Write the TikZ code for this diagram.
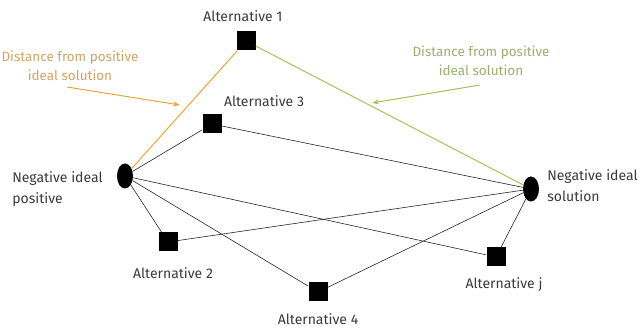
\documentclass[tikz,border=0pt]{standalone}
\usepackage{fontspec}
\setmainfont{Fira Sans}
\usetikzlibrary{arrows.meta, shapes.geometric}
\definecolor{corange}{HTML}{E8A63C}
\definecolor{cgreen}{HTML}{A9C255}
\definecolor{corangetxt}{HTML}{CFA464}
\definecolor{cgreentxt}{HTML}{9DAF6C}
\definecolor{cdark}{HTML}{3A3A3A}
\tikzset{
  every picture/.style={x=1pt, y=-1pt, line width=0.6pt},
  alt/.style={fill=black, minimum size=19pt, inner sep=0pt},
  ideal/.style={ellipse, fill=black, minimum width=16pt, minimum height=25pt, inner sep=0pt},
  link/.style={draw=black!85, line width=0.6pt},
  lbl/.style={text=cdark, font=\fontsize{14}{21}\selectfont, inner sep=0pt},
  distnote/.style={font=\fontsize{13.5}{18.5}\selectfont, align=center, inner sep=0pt},
  pointer/.style={-{Stealth[length=7pt, width=5pt]}, line width=1pt},
}

\begin{document}
\begin{tikzpicture}
  \useasboundingbox (0,0) rectangle (641,331);
  % ideal solutions
  \node[ideal] (negl) at (125,176) {};
  \node[ideal] (negr) at (531,189) {};
  % alternatives
  \node[alt] (a1) at (246,41) {};
  \node[alt] (a3) at (212,124) {};
  \node[alt] (a2) at (168,242) {};
  \node[alt] (a4) at (318,292) {};
  \node[alt] (aj) at (496,257) {};
  % labels
  \node[lbl] (la1) at (243,16) {Alternative 1};
  \node[lbl] (la3) at (264,101) {Alternative 3};
  \node[lbl] (la2) at (173,273) {Alternative 2};
  \node[lbl] (la4) at (318,319) {Alternative 4};
  \node[lbl] (laj) at (504,285) {Alternative j};
  \node[lbl, align=left, anchor=west] (lnegl) at (12,189) {Negative ideal\\positive};
  \node[lbl, align=left, anchor=west] (lnegr) at (547,186) {Negative ideal\\solution};
  % distances
  \draw[corange, line width=1pt] (negl) -- (a1);
  \draw[cgreen, line width=1pt] (a1) -- (negr);
  \foreach \a in {a3,a2,a4,aj}{
    \draw[link] (negl) -- (\a);
    \draw[link] (\a) -- (negr);
  }
  % notes
  \node[distnote, text=corangetxt] (dpos) at (70,66) {Distance from positive\\ideal solution};
  \node[distnote, text=cgreentxt] (dneg) at (481,61) {Distance from positive\\ideal solution};
  \coordinate (po1) at (67,87);
  \coordinate (pe1) at (180,105);
  \coordinate (po2) at (480,85);
  \coordinate (pe2) at (372,103);
  \draw[pointer, corange] (po1) -- (pe1);
  \draw[pointer, cgreen] (po2) -- (pe2);
\end{tikzpicture}
\end{document}
